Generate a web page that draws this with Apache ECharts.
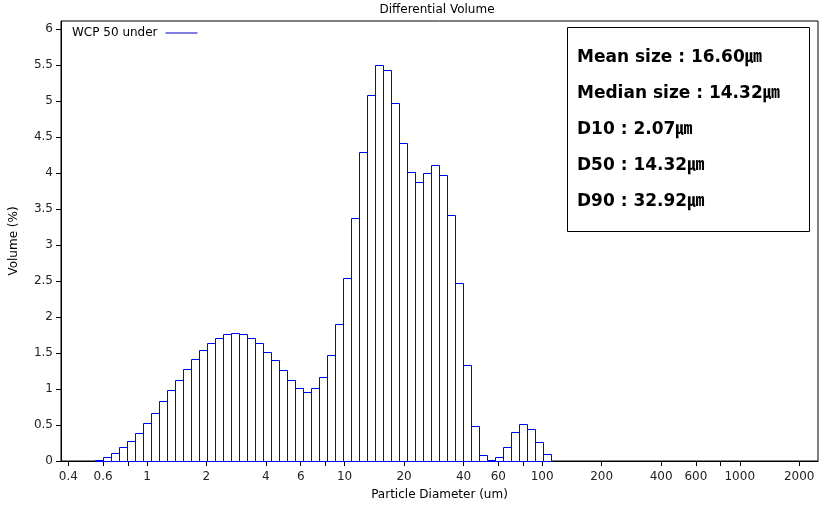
<!DOCTYPE html>
<html>
<head>
<meta charset="utf-8">
<script src="https://cdn.jsdelivr.net/npm/echarts@6/dist/echarts.min.js"></script>
<style>
html,body{margin:0;padding:0;background:#fff;}
#c1{width:824px;height:506px;}
</style>
</head>
<body>
<div id="c1"></div>
<script>
// 粒径通道下沿 (um)
var edges = [0.5445, 0.5977, 0.6561, 0.7202, 0.7907, 0.8679, 0.9528, 1.0459, 1.1482, 1.2604,
	1.3836, 1.5188, 1.6672, 1.8302, 2.0091, 2.2054, 2.4210, 2.6576, 2.9174, 3.2025,
	3.5156, 3.8592, 4.2364, 4.6505, 5.1050, 5.6040, 6.1518, 6.7531, 7.4131, 8.1377,
	8.9331, 9.8062, 10.765, 11.817, 12.972, 14.240, 15.631, 17.159, 18.836, 20.677,
	22.699, 24.917, 27.353, 30.026, 32.961, 36.183, 39.719, 43.601, 47.863, 52.541,
	57.677, 63.314, 69.502, 76.296, 83.753, 91.939, 100.93, 110.79];
// Volume (%)
var volume = [0.02, 0.05, 0.11, 0.19, 0.28, 0.39, 0.53, 0.67, 0.83, 0.99,
	1.13, 1.28, 1.42, 1.54, 1.64, 1.71, 1.76, 1.78, 1.77, 1.71,
	1.64, 1.52, 1.40, 1.26, 1.13, 1.01, 0.96, 1.02, 1.17, 1.47,
	1.90, 2.54, 3.38, 4.29, 5.09, 5.50, 5.44, 4.98, 4.42, 4.01,
	3.88, 4.00, 4.11, 3.97, 3.42, 2.47, 1.34, 0.48, 0.08, 0.02,
	0.05, 0.19, 0.40, 0.52, 0.45, 0.27, 0.10];
var xLabels = [0.4, 0.6, 1, 2, 4, 6, 10, 20, 40, 60, 100, 200, 400, 600, 1000, 2000];
var xMinor = [0.8, 8, 80, 800];
var yLabels = [0, 0.5, 1, 1.5, 2, 2.5, 3, 3.5, 4, 4.5, 5, 5.5, 6];
var stats = ['Mean size : 16.60㎛', 'Median size : 14.32㎛', 'D10 : 2.07㎛', 'D50 : 14.32㎛', 'D90 : 32.92㎛'];
var seriesName = 'WCP 50 under';

var lg = function (v) { return Math.log(v) / Math.LN10; };
var bins = [];
for (var i = 0; i < volume.length; i++) {
	bins.push([lg(edges[i]), lg(edges[i + 1]), volume[i]]);
}
var xLabelVals = xLabels.map(lg);
var xTickVals = xLabels.concat(xMinor).map(lg);

var font = '"DejaVu Sans", Verdana, sans-serif';
var myChart = echarts.init(document.getElementById('c1'));

var statText = [];
for (var j = 0; j < stats.length; j++) {
	statText.push({
		type: 'text', left: 577, top: 49 + j * 36, z: 101,
		style: { text: stats[j], font: 'bold 17px "DejaVu Sans", "Noto Sans CJK KR", sans-serif', fill: '#000' }
	});
}

var option = {
	animation: false,
	title: {
		text: 'Differential Volume', left: 437, top: 4, textAlign: 'center', padding: 0,
		textStyle: { fontSize: 12, fontWeight: 'normal', color: '#000', fontFamily: font }
	},
	legend: {
		left: 72, top: 27, align: 'right', padding: 0,
		itemWidth: 32, itemHeight: 1, itemGap: 4,
		textStyle: { fontSize: 12, color: '#000', fontFamily: font, padding: [0, 3, 0, 0] },
		data: [{ name: seriesName, icon: 'rect', itemStyle: { color: '#0000c0' } }]
	},
	grid: {
		left: 59, right: 6, top: 21, bottom: 44,
		show: true, borderColor: '#000', borderWidth: 1, backgroundColor: 'transparent'
	},
	xAxis: {
		type: 'value', min: -0.435, max: 3.396,
		name: 'Particle Diameter (um)', nameLocation: 'middle', nameGap: 28,
		nameTextStyle: { fontSize: 12, color: '#000', fontFamily: font },
		axisLine: { onZero: false, lineStyle: { color: '#000', width: 1 } },
		axisTick: { show: true, length: 5, customValues: xTickVals, lineStyle: { color: '#000' } },
		axisLabel: {
			customValues: xLabelVals, margin: 10, fontSize: 12, color: '#222', fontFamily: font,
			formatter: function (v) { return String(Number(Math.pow(10, v).toPrecision(3))); }
		},
		splitLine: { show: false }
	},
	yAxis: {
		type: 'value', min: 0, max: 6.115,
		name: 'Volume (%)', nameLocation: 'middle', nameGap: 41, nameRotate: 90,
		nameTextStyle: { fontSize: 12, color: '#000', fontFamily: font },
		axisLine: { show: true, onZero: false, lineStyle: { color: '#000', width: 1 } },
		axisTick: { show: true, length: 5, customValues: yLabels, lineStyle: { color: '#000' } },
		axisLabel: { customValues: yLabels, margin: 8, fontSize: 12, color: '#222', fontFamily: font },
		splitLine: { show: false }
	},
	graphic: [{
		type: 'rect', left: 567, top: 27, z: 100,
		shape: { width: 242, height: 204 },
		style: { fill: '#fff', stroke: '#000', lineWidth: 1 }
	}].concat(statText),
	series: [{
		name: seriesName,
		type: 'custom',
		data: bins,
		encode: { x: [0, 1], y: 2 },
		itemStyle: { color: '#0000c0' },
		renderItem: function (params, api) {
			var p0 = api.coord([api.value(0), api.value(2)]);
			var p1 = api.coord([api.value(1), 0]);
			var x0 = Math.round(p0[0]) + 0.5;
			var x1 = Math.round(p1[0]) + 0.5;
			var y0 = Math.round(p0[1]) + 0.5;
			var y1 = Math.round(p1[1]) + 0.5;
			return {
				type: 'rect',
				shape: { x: x0, y: y0, width: x1 - x0, height: y1 - y0 },
				style: { fill: '#fff', stroke: '#0000ff', lineWidth: 1 }
			};
		}
	}]
};
myChart.setOption(option);
</script>
</body>
</html>
